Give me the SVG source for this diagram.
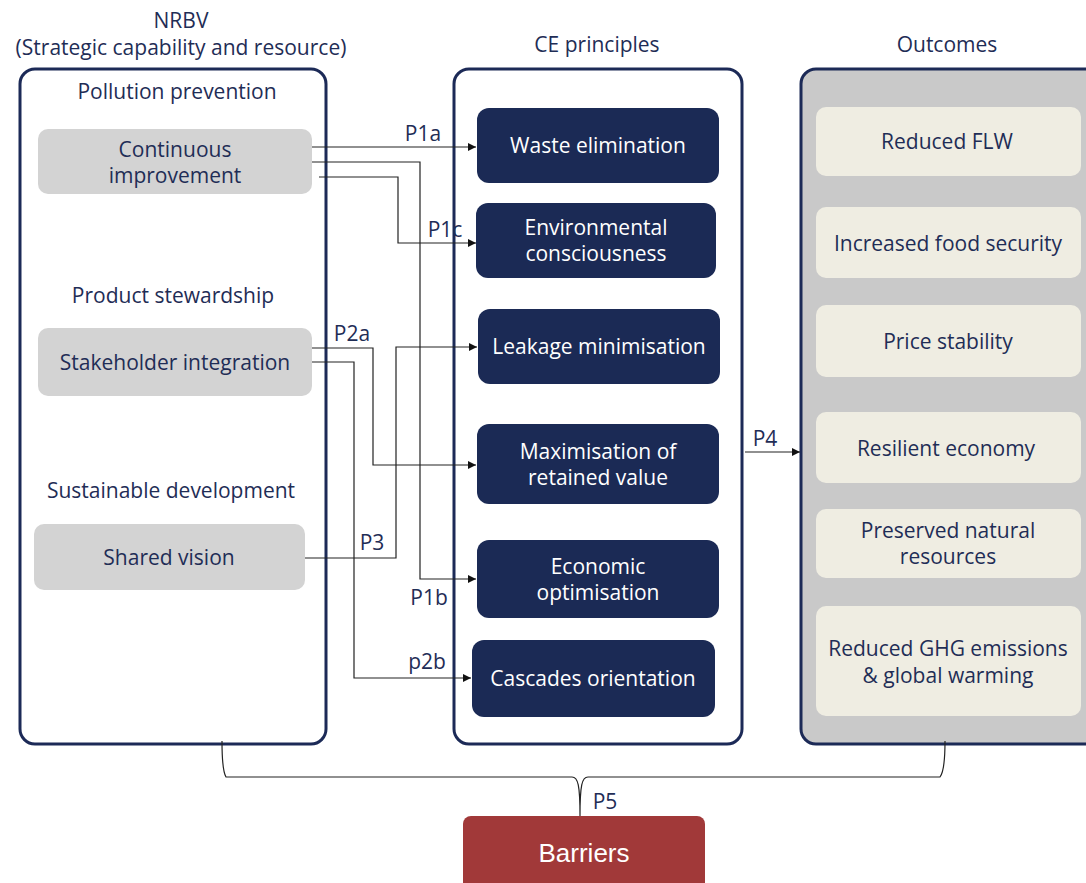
<svg xmlns="http://www.w3.org/2000/svg" width="1086" height="883" viewBox="0 0 1086 883">
  <defs>
    <marker id="arrow" viewBox="0 0 10 10" refX="10" refY="5" markerWidth="8" markerHeight="8" markerUnits="userSpaceOnUse" orient="auto">
      <path d="M0,0 L10,5 L0,10 z" fill="#111"/>
    </marker>
    <style>
      text { font-family: "Open Sans", "Liberation Sans", sans-serif; }
      .head { font-size: 21px; fill: #1f2d56; text-anchor: middle; }
      .panel { fill: #ffffff; stroke: #1c2a57; stroke-width: 3; }
      .panel-grey { fill: #c9c9c9; stroke: #1c2a57; stroke-width: 3; }
      .res { fill: #d3d3d3; }
      .res-t { font-size: 21px; fill: #1f2d56; text-anchor: middle; }
      .ce { fill: #1b2a55; }
      .ce-t { font-size: 21px; fill: #ffffff; text-anchor: middle; }
      .out { fill: #efede2; }
      .out-t { font-size: 21px; fill: #1f2d56; text-anchor: middle; }
      .link { fill: none; stroke: #222; stroke-width: 1.2; }
      .lbl { font-size: 21px; fill: #1f2d56; text-anchor: middle; }
      .bar { fill: #a13939; }
      .bar-t { font-size: 26px; fill: #ffffff; text-anchor: middle; font-family: "Liberation Sans Narrow", "Liberation Sans", sans-serif; }
    </style>
  </defs>

  <!-- column headings -->
  <text class="head" x="181" y="28">NRBV</text>
  <text class="head" x="181" y="55">(Strategic capability and resource)</text>
  <text class="head" x="597" y="52">CE principles</text>
  <text class="head" x="947" y="52">Outcomes</text>

  <!-- NRBV panel -->
  <g id="nrbv">
    <rect class="panel" x="20" y="69" width="306" height="675" rx="15"/>
    <text class="head" x="177" y="99">Pollution prevention</text>
    <text class="head" x="173" y="303">Product stewardship</text>
    <text class="head" x="171" y="498">Sustainable development</text>
  </g>
  <g id="continuous-improvement">
    <rect class="res" x="38" y="129" width="274" height="65" rx="10"/>
    <text class="res-t" x="175" y="157">Continuous</text>
    <text class="res-t" x="175" y="183">improvement</text>
  </g>
  <g id="stakeholder-integration">
    <rect class="res" x="38" y="328" width="274" height="68" rx="10"/>
    <text class="res-t" x="175" y="370">Stakeholder integration</text>
  </g>
  <g id="shared-vision">
    <rect class="res" x="34" y="524" width="271" height="66" rx="10"/>
    <text class="res-t" x="169" y="565">Shared vision</text>
  </g>

  <!-- CE principles panel -->
  <g id="ce-principles">
    <rect class="panel" x="454" y="69" width="288" height="675" rx="15"/>
  </g>
  <g id="waste-elimination">
    <rect class="ce" x="477" y="108" width="242" height="75" rx="12"/>
    <text class="ce-t" x="598" y="153">Waste elimination</text>
  </g>
  <g id="environmental-consciousness">
    <rect class="ce" x="476" y="203" width="240" height="75" rx="12"/>
    <text class="ce-t" x="596" y="235">Environmental</text>
    <text class="ce-t" x="596" y="261">consciousness</text>
  </g>
  <g id="leakage-minimisation">
    <rect class="ce" x="478" y="309" width="242" height="75" rx="12"/>
    <text class="ce-t" x="599" y="354">Leakage minimisation</text>
  </g>
  <g id="maximisation-of-retained-value">
    <rect class="ce" x="477" y="424" width="242" height="80" rx="12"/>
    <text class="ce-t" x="598" y="459">Maximisation of</text>
    <text class="ce-t" x="598" y="485">retained value</text>
  </g>
  <g id="economic-optimisation">
    <rect class="ce" x="477" y="540" width="242" height="78" rx="12"/>
    <text class="ce-t" x="598" y="574">Economic</text>
    <text class="ce-t" x="598" y="600">optimisation</text>
  </g>
  <g id="cascades-orientation">
    <rect class="ce" x="472" y="640" width="243" height="77" rx="12"/>
    <text class="ce-t" x="593" y="686">Cascades orientation</text>
  </g>

  <!-- Outcomes panel -->
  <g id="outcomes">
    <rect class="panel-grey" x="801" y="69" width="300" height="675" rx="15"/>
  </g>
  <g id="reduced-flw">
    <rect class="out" x="816" y="107" width="265" height="69" rx="10"/>
    <text class="out-t" x="947" y="149">Reduced FLW</text>
  </g>
  <g id="increased-food-security">
    <rect class="out" x="816" y="207" width="265" height="71" rx="10"/>
    <text class="out-t" x="948" y="251">Increased food security</text>
  </g>
  <g id="price-stability">
    <rect class="out" x="816" y="305" width="265" height="72" rx="10"/>
    <text class="out-t" x="948" y="349">Price stability</text>
  </g>
  <g id="resilient-economy">
    <rect class="out" x="816" y="412" width="265" height="71" rx="10"/>
    <text class="out-t" x="946" y="456">Resilient economy</text>
  </g>
  <g id="preserved-natural-resources">
    <rect class="out" x="816" y="509" width="265" height="69" rx="10"/>
    <text class="out-t" x="948" y="538">Preserved natural</text>
    <text class="out-t" x="948" y="564">resources</text>
  </g>
  <g id="reduced-ghg">
    <rect class="out" x="816" y="606" width="265" height="110" rx="10"/>
    <text class="out-t" x="948" y="656">Reduced GHG emissions</text>
    <text class="out-t" x="948" y="683">&amp; global warming</text>
  </g>

  <!-- Barriers -->
  <g id="barriers">
    <rect class="bar" x="463" y="816" width="242" height="80" rx="8"/>
    <text class="bar-t" x="584" y="862">Barriers</text>
  </g>

  <!-- connectors -->
  <g id="connectors">
    <polyline class="link" points="312,147 476,147" marker-end="url(#arrow)"/>
    <polyline class="link" points="312,162 420,162 420,579 476,579" marker-end="url(#arrow)"/>
    <polyline class="link" points="319,177 398,177 398,243 476,243" marker-end="url(#arrow)"/>
    <polyline class="link" points="312,348 373,348 373,465 476,465" marker-end="url(#arrow)"/>
    <polyline class="link" points="312,362 354,362 354,678 471,678" marker-end="url(#arrow)"/>
    <polyline class="link" points="305,558 396,558 396,347 477,347" marker-end="url(#arrow)"/>
    <polyline class="link" points="745,452 800,452" marker-end="url(#arrow)"/>
    <!-- brace gathering the three panels into Barriers -->
    <path class="link" d="M222,741 C222,760 223,772 226,777 L572,777 C578,777 580,785 580,816 M580,816 C580,785 582,777 588,777 L940,777 C944,772 945,760 945,741"/>

    <text class="lbl" x="423" y="141">P1a</text>
    <text class="lbl" x="445" y="237">P1c</text>
    <text class="lbl" x="352" y="341">P2a</text>
    <text class="lbl" x="372" y="550">P3</text>
    <text class="lbl" x="429" y="605">P1b</text>
    <text class="lbl" x="427" y="669">p2b</text>
    <text class="lbl" x="765" y="446">P4</text>
    <text class="lbl" x="605" y="809">P5</text>
  </g>
</svg>
